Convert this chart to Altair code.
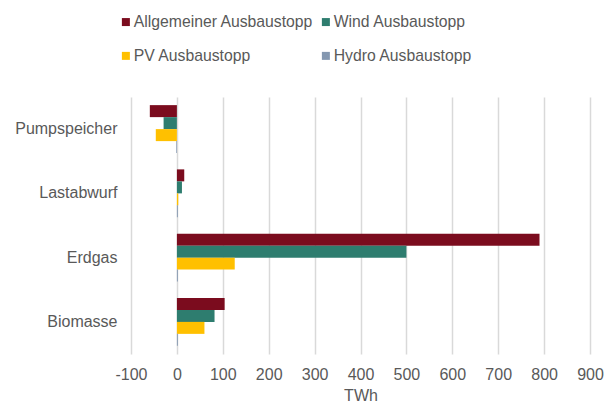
import altair as alt
import pandas as pd

categories = ["Pumpspeicher", "Lastabwurf", "Erdgas", "Biomasse"]
series = ["Allgemeiner Ausbaustopp", "Wind Ausbaustopp", "PV Ausbaustopp", "Hydro Ausbaustopp"]
allgemeiner = [-59, 16, 790, 104]
wind = [-29, 11, 500, 82]
pv = [-46, 3, 126, 60]
hydro = [-1.5, 2, 2, 2]
colors = ["#7B0C1E", "#2E7D6F", "#FFC000", "#8497B0"]
x_ticks = [-100, 0, 100, 200, 300, 400, 500, 600, 700, 800, 900]

rows = []
for s, vals in zip(series, [allgemeiner, wind, pv, hydro]):
    for c, v in zip(categories, vals):
        rows.append({"Kategorie": c, "Szenario": s, "TWh": v})
df = pd.DataFrame(rows)

FONT = "Liberation Sans"
GRAY = "#595959"

chart = alt.Chart(df).mark_bar().encode(
    y=alt.Y(
        "Kategorie:N",
        sort=categories,
        scale=alt.Scale(paddingInner=0.253, paddingOuter=0.1265),
        axis=alt.Axis(title=None, ticks=False, domain=False, grid=False,
                      labelPadding=14, labelFontSize=16, labelColor=GRAY, labelFont=FONT),
    ),
    yOffset=alt.YOffset("Szenario:N", sort=series,
                        scale=alt.Scale(paddingInner=0, paddingOuter=0)),
    x=alt.X(
        "TWh:Q",
        scale=alt.Scale(domain=[-100, 900], nice=False),
        axis=alt.Axis(values=x_ticks, title="TWh", grid=True, gridColor="#d9d9d9",
                      gridWidth=1.5, domain=False, ticks=False, labelPadding=12,
                      labelFlush=False, labelExpr="'' + datum.value",
                      labelFontSize=16, labelColor=GRAY, labelFont=FONT,
                      titleFontSize=16, titleFontWeight="normal", titleColor=GRAY,
                      titleFont=FONT, titlePadding=5),
    ),
    color=alt.Color(
        "Szenario:N",
        sort=series,
        scale=alt.Scale(domain=series, range=colors),
        legend=alt.Legend(title=None, orient="none", legendX=-13, legendY=-83,
                          direction="horizontal", columns=2, symbolType="square",
                          symbolSize=64, symbolStrokeWidth=0, labelFontSize=15.75,
                          labelOffset=0, labelFont=FONT, labelColor=GRAY,
                          labelLimit=300, columnPadding=4, rowPadding=17, padding=0),
    ),
).properties(
    width=459,
    height=257,
    autosize=alt.AutoSizeParams(type="none"),
    padding={"left": 123, "top": 89, "right": 15, "bottom": 48},
).configure_view(stroke=None)

chart.save("out.html", embed_options={"renderer": "svg", "actions": False})
